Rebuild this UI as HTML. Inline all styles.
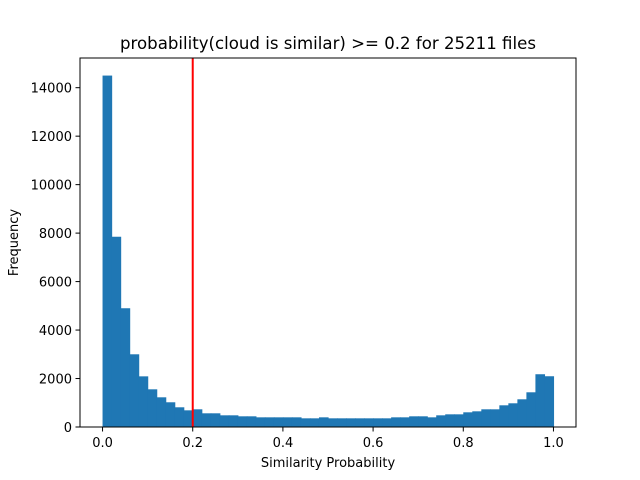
<!DOCTYPE html>
<html><head><meta charset="utf-8"><style>
body{margin:0;background:#fff;}
svg{display:block;font-family:"DejaVu Sans","Liberation Sans",sans-serif;}
</style></head><body>
<svg id="chart" width="640" height="480" xmlns="http://www.w3.org/2000/svg"></svg>
<script>
const binStart = 0.0;
const binWidth = 0.02;
const counts = [14500,7850,4900,3000,2090,1555,1225,1020,813,688,730,565,565,482,482,441,441,399,399,399,399,399,358,358,399,358,358,358,358,358,358,358,399,399,441,441,399,482,523,523,606,647,730,730,895,978,1143,1432,2177,2094];
const xTicks = [0.0,0.2,0.4,0.6,0.8,1.0];
const xTickLabels = ["0.0","0.2","0.4","0.6","0.8","1.0"];
const yTicks = [0,2000,4000,6000,8000,10000,12000,14000];
const yTickLabels = ["0","2000","4000","6000","8000","10000","12000","14000"];
const threshold = [0.2];

const svg = document.getElementById('chart');
const NS = 'http://www.w3.org/2000/svg';
const L=80,R=576,T=58,B=427;
const xmin=-0.05,xmax=1.05,ymax=15225;
const X=v=>L+(v-xmin)/(xmax-xmin)*(R-L);
const Y=v=>B-v/ymax*(B-T);
function mk(tag,attrs){const e=document.createElementNS(NS,tag);for(const k in attrs)e.setAttribute(k,attrs[k]);svg.appendChild(e);return e;}

counts.forEach((c,i)=>{
  const x0=X(binStart+i*binWidth), x1=X(binStart+(i+1)*binWidth);
  const r=mk('rect',{x:x0,y:Y(c),width:x1-x0+0.6,height:Y(0)-Y(c),fill:'#1f77b4'});
  
  
});
threshold.forEach(t=>{
  const l=mk('line',{x1:X(t),x2:X(t),y1:T,y2:B,stroke:'#ff0000','stroke-width':2});
  
  
});
const frame=mk('rect',{x:L,y:T,width:R-L,height:B-T,fill:'none',stroke:'#000','stroke-width':1});


xTicks.forEach((v,i)=>{
  mk('line',{x1:X(v),x2:X(v),y1:B,y2:B+4.5,stroke:'#000','stroke-width':1});
  const t=mk('text',{x:X(v),y:B+20,'text-anchor':'middle','font-size':13});
  t.textContent=xTickLabels[i];
  
  
});
yTicks.forEach((v,i)=>{
  mk('line',{x1:L-4.5,x2:L,y1:Y(v),y2:Y(v),stroke:'#000','stroke-width':1});
  const t=mk('text',{x:L-8,y:Y(v)+5,'text-anchor':'end','font-size':13});
  t.textContent=yTickLabels[i];
  
  
});
const xt=mk('text',{x:(L+R)/2,y:467,'text-anchor':'middle','font-size':13});
xt.textContent='Similarity Probability';


const yt=mk('text',{x:18,y:(T+B)/2,'text-anchor':'middle','font-size':13,transform:'rotate(-90 18 '+((T+B)/2)+')'});
yt.textContent='Frequency';


const tt=mk('text',{x:(L+R)/2,y:49,'text-anchor':'middle','font-size':16.6});
tt.textContent='probability(cloud is similar) >= 0.2 for 25211 files';


</script>
</body></html>
